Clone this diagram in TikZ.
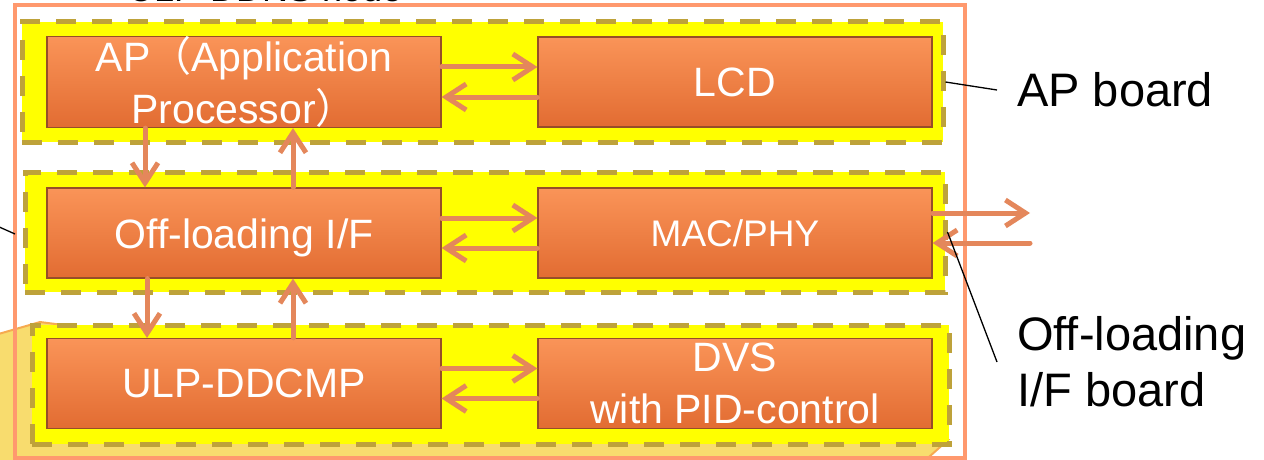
\documentclass[tikz,border=0pt]{standalone}
\usepackage{fontspec}
\setmainfont{Liberation Sans}
\newfontfamily\cjk{Noto Sans CJK JP}
\usetikzlibrary{arrows.meta, positioning, calc}
\definecolor{boardyellow}{RGB}{255,255,0}
\definecolor{boarddash}{RGB}{190,162,58}
\definecolor{unittop}{RGB}{250,148,88}
\definecolor{unitbottom}{RGB}{226,108,50}
\definecolor{unitedge}{RGB}{150,78,40}
\definecolor{linkcolor}{RGB}{228,135,91}
\definecolor{framecolor}{RGB}{255,153,110}
\definecolor{zoomfill}{RGB}{248,220,110}
\definecolor{zoomedge}{RGB}{246,170,80}
\tikzset{
  board/.style  = {draw=boarddash, fill=boardyellow, line width=5pt,
                   dash pattern=on 20pt off 16pt, minimum height=120pt, inner sep=0pt},
  unit/.style   = {draw=unitedge, line width=1.2pt, top color=unittop, bottom color=unitbottom,
                   text=white, minimum width=394pt, minimum height=90pt, inner sep=0pt,
                   align=center, font=\fontsize{41}{52}\selectfont},
  link/.style   = {-{Straight Barb[length=20pt, width=26pt]}, line width=5pt,
                   color=linkcolor, line cap=round},
  tag/.style    = {font=\fontsize{47}{56}\selectfont, align=left, inner sep=0pt, anchor=west},
  leader/.style = {draw=black, line width=1.3pt},
}
\begin{document}
\begin{tikzpicture}[x=1pt, y=-1pt]
  \path[use as bounding box] (0,0) rectangle (1264,460);
  \clip (0,0) rectangle (1264,460);
  % zoom-out shape and node frame
  \filldraw[fill=zoomfill, draw=zoomedge, line width=2pt]
    (-5,335) -- (40,322) -- (948,440) -- (920,465) -- (-5,465) -- cycle;
  \draw[framecolor, line width=4pt] (15,5) rectangle (965,458);
  \node[anchor=base west, font=\fontsize{36}{40}\selectfont, inner sep=0pt] (title) at (128,1.5) {ULP-DDNS node};
  % boards
  \node[board, minimum width=921pt] (apb) at (482.5,82) {};
  \node[board, minimum width=920pt] (olb) at (485,232) {};
  \node[board, minimum width=917pt, minimum height=119pt] (ddb) at (490.5,384.5) {};
  % units
  \node[unit] (ap)    at (244,82)    {AP{\cjk （}Application\\Processor{\cjk ）}};
  \node[unit] (lcd)   at (735,82)    {LCD};
  \node[unit, text height=30pt, text depth=0pt] (olif) at (244,233) {Off-loading I/F};
  \node[unit, font=\fontsize{37}{44}\selectfont] (mac) at (735,233) {MAC/PHY};
  \node[unit] (ddcmp) at (244,383.5) {ULP-DDCMP};
  \node[unit] (dvs)   at (735,383.5) {DVS\\with PID-control};
  % links
  \draw[link] ([yshift=15pt]ap.east) -- ([yshift=15pt]lcd.west);
  \draw[link] ([yshift=-15pt]lcd.west) -- ([yshift=-15pt]ap.east);
  \draw[link] ([yshift=15pt]olif.east) -- ([yshift=15pt]mac.west);
  \draw[link] ([yshift=-15pt]mac.west) -- ([yshift=-15pt]olif.east);
  \draw[link] ([yshift=15pt]ddcmp.east) -- ([yshift=15pt]dvs.west);
  \draw[link] ([yshift=-15pt]dvs.west) -- ([yshift=-15pt]ddcmp.east);
  \draw[link] ([xshift=-99pt]ap.south) -- ([xshift=-99pt]olif.north);
  \draw[link] ([xshift=49pt]olif.north) -- ([xshift=49pt]ap.south);
  \draw[link] ([xshift=-97pt]olif.south) -- ([xshift=-97pt]ddcmp.north);
  \draw[link] ([xshift=49pt]ddcmp.north) -- ([xshift=49pt]olif.south);
  \coordinate (netout) at (1030,213);
  \coordinate (netin)  at (1030,243);
  \draw[link] (mac.east |- netout) -- (netout);
  \draw[link] (netin) -- (mac.east |- netin);
  % labels
  \node[tag] (aplabel) at (1017,90) {AP board};
  \node[tag] (oflabel) at (1017,362) {Off-loading\\I/F board};
  \draw[leader] (apb.east) -- ([xshift=-20pt]aplabel.west);
  \draw[leader] (olb.east) -- ([xshift=-20pt]oflabel.west);
  \coordinate (lefttip) at (-3,226);
  \coordinate (leftend) at (15,234);
  \draw[leader] (lefttip) -- (leftend);
\end{tikzpicture}
\end{document}
